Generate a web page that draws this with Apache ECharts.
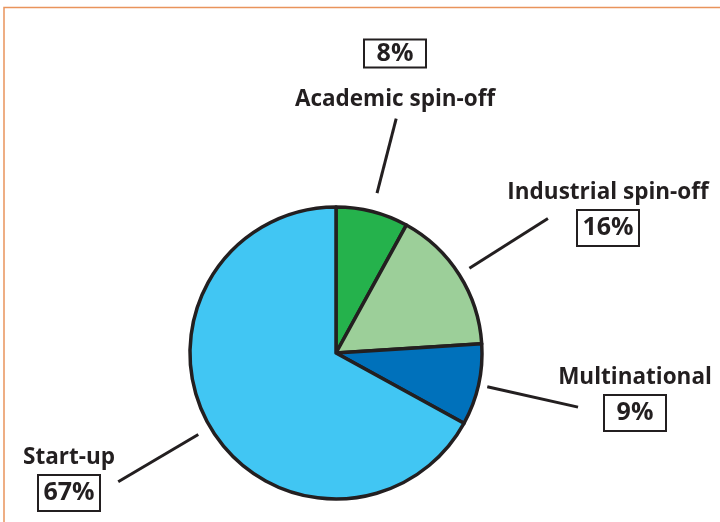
<!DOCTYPE html>
<html>
<head>
<meta charset="utf-8">
<script src="https://cdn.jsdelivr.net/npm/echarts@6/dist/echarts.min.js"></script>
<style>html,body{margin:0;padding:0;background:#fff}#c{width:720px;height:522px}</style>
</head>
<body>
<div id="c"></div>
<script>
const categories = ['Academic spin-off', 'Industrial spin-off', 'Multinational', 'Start-up'];
const values = [8, 16, 9, 67];
const colors = ['#25b24c', '#9ccf99', '#0071bb', '#41c6f3'];

const CENTER = [336, 353];
const RADIUS = 146;
// label block centres and leader line radii (layout only)
const labelPos = [[395, 76], [608, 213], [635, 398], [69, 478]];
const lineInner = [165, 158, 155, 160];
const lineOuter = [242, 251, 248, 253];

const total = values.reduce((a, b) => a + b, 0);
const midAngles = [];
let acc = 0;
values.forEach(v => { midAngles.push((acc + v / 2) / total * 2 * Math.PI); acc += v; });
function pt(i, r) {
  const a = midAngles[i];
  return [CENTER[0] + r * Math.sin(a), CENTER[1] - r * Math.cos(a)];
}

const chart = echarts.init(document.getElementById('c'));
const ink = '#231f20';
const font = "'Open Sans', sans-serif";
chart.setOption({
  animation: false,
  graphic: [{
    type: 'rect', shape: { x: 4, y: 7.5, width: 900, height: 700 },
    style: { fill: 'none', stroke: '#e9945c', lineWidth: 1.5 }, silent: true
  }],
  series: [{
    type: 'pie',
    center: CENTER,
    radius: RADIUS,
    startAngle: 90,
    clockwise: true,
    data: categories.map((n, i) => ({ name: n, value: values[i], itemStyle: { color: colors[i] } })),
    itemStyle: { borderColor: ink, borderWidth: 3.5 },
    label: {
      show: true,
      position: 'outside',
      formatter: p => p.dataIndex === 0 ? '{boxs|' + p.value + '%}\n{gaps|}\n{name|' + p.name + '}'
                                          : '{name|' + p.name + '}\n{gap|}\n{box|' + p.value + '%}',
      rich: {
        name: { fontFamily: font, fontWeight: 'bold', fontSize: 22.5, color: ink, lineHeight: 26, align: 'center' },
        gap: { height: 4, lineHeight: 4 },
        gaps: { height: 19, lineHeight: 19 },
        box: { fontFamily: font, fontWeight: 'bold', fontSize: 25, color: ink, width: 62, height: 36, lineHeight: 36,
               borderColor: ink, borderWidth: 2, align: 'center' },
        boxs: { fontFamily: font, fontWeight: 'bold', fontSize: 25, color: ink, width: 62, height: 28, lineHeight: 28,
               borderColor: ink, borderWidth: 2, align: 'center' }
      }
    },
    labelLine: { show: true, lineStyle: { color: ink, width: 3 }, smooth: false },
    labelLayout: function (params) {
      const i = params.dataIndex;
      const a = pt(i, lineInner[i]), b = pt(i, lineOuter[i]);
      return {
        x: labelPos[i][0], y: labelPos[i][1],
        align: 'center', verticalAlign: 'middle',
        labelLinePoints: [a, b, b]
      };
    }
  }]
});
</script>
</body>
</html>
